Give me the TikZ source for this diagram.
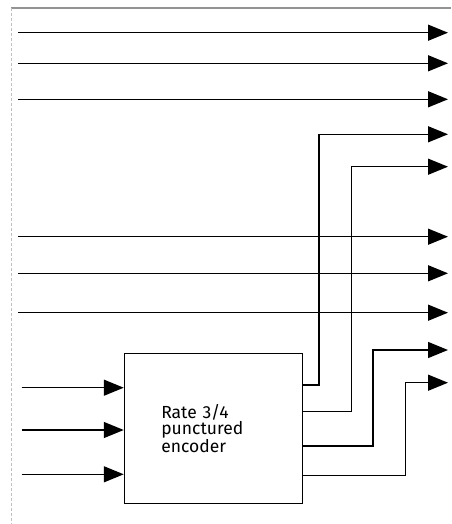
\documentclass[tikz,border=0pt]{standalone}
\usepackage{fontspec}
\setsansfont{Fira Sans}
\usetikzlibrary{arrows.meta, calc}

\begin{document}
\begin{tikzpicture}[x=1pt, y=-1pt,
    % Define the style for the signal lines
    signal/.style={line width=1.4pt, -{Triangle[length=20pt, width=16pt]}},
    % Define the style for the encoder box
    encbox/.style={draw, line width=1.1pt, minimum width=178pt, minimum height=150pt,
        inner xsep=37pt, text width=104pt, align=left,
        font=\sffamily\fontsize{17.5}{16.5}\selectfont}
]
\useasboundingbox (0,0) rectangle (451,524);

% Frame edges
\draw[gray!85, line width=1.4pt] (11,8) -- (451,8);
\draw[gray!50, line width=0.7pt, densely dashed] (11.7,8) -- (11.7,524);

% Define the ends of the lines
\coordinate (s1) at (18,32.7);
\coordinate (s2) at (18,63.3);
\coordinate (s3) at (18,99.3);
\coordinate (s6) at (18,236.7);
\coordinate (s7) at (18,273.3);
\coordinate (s8) at (18,312.7);

\coordinate (o1) at (448,32.7);
\coordinate (o2) at (448,63.3);
\coordinate (o3) at (448,99.3);
\coordinate (o4) at (448,134.3);
\coordinate (o5) at (448,166.7);
\coordinate (o6) at (448,236.7);
\coordinate (o7) at (448,273.3);
\coordinate (o8) at (448,312.7);
\coordinate (o9) at (448,350);
\coordinate (o10) at (448,382.7);

% The encoder
\node[encbox] (enc) at (213.3,428.3) {Rate 3/4\\punctured\\encoder};

\coordinate (i1) at (21.7,387.7);
\coordinate (i2) at (21.7,430);
\coordinate (i3) at (21.7,474.3);

\coordinate (e1) at ([yshift=43.3pt]enc.east);
\coordinate (e2) at ([yshift=16.6pt]enc.east);
\coordinate (e3) at ([yshift=-17.7pt]enc.east);
\coordinate (e4) at ([yshift=-47.4pt]enc.east);

% Straight through lines
\draw[signal] (s1) -- (o1);
\draw[signal] (s2) -- (o2);
\draw[signal] (s3) -- (o3);
\draw[signal] (s6) -- (o6);
\draw[signal] (s7) -- (o7);
\draw[signal] (s8) -- (o8);

% Encoder inputs
\draw[signal] (i1) -- (i1 -| enc.west);
\draw[signal] (i2) -- (i2 -| enc.west);
\draw[signal] (i3) -- (i3 -| enc.west);

% Encoder outputs
\draw[signal] (e1) -- ++(16,0) |- (o4);
\draw[signal] (e2) -- ++(48.7,0) |- (o5);
\draw[signal] (e3) -- ++(70,0) |- (o9);
\draw[signal] (e4) -- ++(102.7,0) |- (o10);

\end{tikzpicture}
\end{document}
